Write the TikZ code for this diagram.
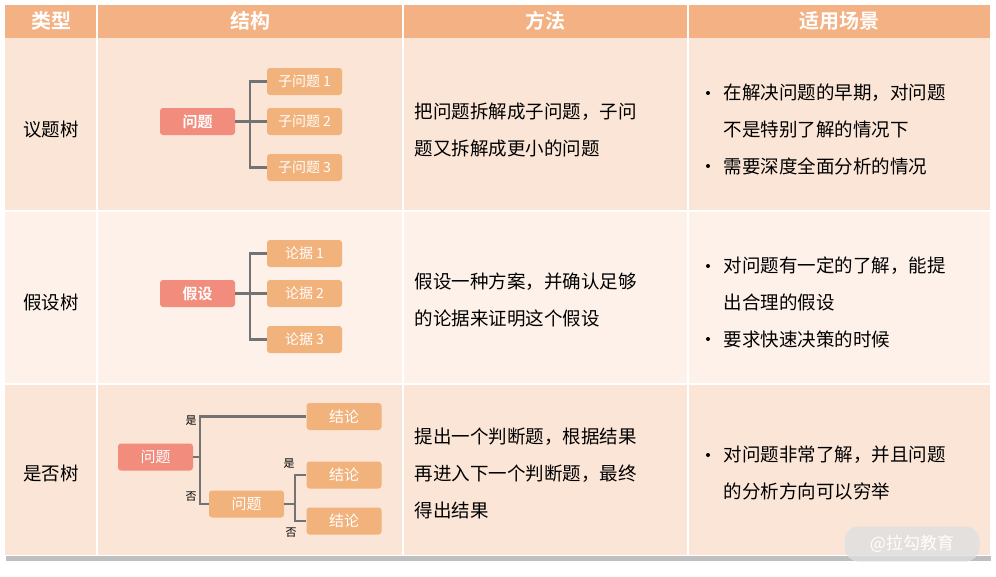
\documentclass[tikz,border=0pt]{standalone}
\usepackage{fontspec}
\setmainfont{Noto Sans CJK SC}
\newfontfamily\cjkb{Noto Sans CJK SC Bold}
\begin{document}
\begin{tikzpicture}[x=1pt,y=-1pt,
  hd/.style={text=white,font=\cjkb\fontsize{20}{24}\selectfont},
  tx/.style={anchor=west,font=\fontsize{18.5}{22}\selectfont,text=black},
  rbox/.style={fill=redc,rounded corners=3pt,minimum width=75pt,minimum height=27pt,text=white,font=\cjkb\fontsize{15}{18}\selectfont,inner sep=0pt},
  obox/.style={fill=orc,rounded corners=3pt,minimum width=75pt,minimum height=27pt,text=white,font=\fontsize{14}{17}\selectfont,inner sep=0pt},
  ln/.style={draw=gray!90!black,line width=2.2pt},
  lab/.style={font=\fontsize{11}{13}\selectfont,inner sep=0pt}]
\definecolor{hdc}{HTML}{F4B183}
\definecolor{r1}{HTML}{FBE5D6}
\definecolor{r2}{HTML}{FDF1EA}
\definecolor{redc}{HTML}{F28C7C}
\definecolor{orc}{HTML}{F2B27B}
\useasboundingbox (0,0) rectangle (996,576);
\fill[white] (0,0) rectangle (996,576);
\fill[gray!50] (6,556) rectangle (991,561);
\fill[hdc] (5,5) rectangle (990,38);
\fill[r1] (5,38) rectangle (990,210);
\fill[r2] (5,212) rectangle (990,383);
\fill[r1] (5,385) rectangle (990,555);
\foreach \x in {97,403,688} \draw[white,line width=1.5pt] (\x,5) -- (\x,555);
\node[hd] (h1) at (51,21) {类型};
\node[hd] (h2) at (250,21) {结构};
\node[hd] (h3) at (545,21) {方法};
\node[hd] (h4) at (839,21) {适用场景};
\node[tx,anchor=center] (t1) at (51,130) {议题树};
\node[tx,anchor=center] (t2) at (51,302) {假设树};
\node[tx,anchor=center] (t3) at (51,473) {是否树};
% row1
\node[rbox] (q1) at (197.5,121.5) {问题};
\node[obox] (s1) at (304.5,81.5) {子问题 1};
\node[obox] (s2) at (304.5,121.5) {子问题 2};
\node[obox] (s3) at (304.5,167.5) {子问题 3};
\draw[ln] (q1.east) -- (s2.west);
\draw[ln] (s1.west) -| (250,121.5) |- (s3.west);
% row2
\node[rbox] (q2) at (197.5,293.5) {假设};
\node[obox] (e1) at (304.5,253.5) {论据 1};
\node[obox] (e2) at (304.5,293.5) {论据 2};
\node[obox] (e3) at (304.5,339.5) {论据 3};
\draw[ln] (q2.east) -- (e2.west);
\draw[ln] (e1.west) -| (250,293.5) |- (e3.west);
% row3
\node[rbox,font=\fontsize{15}{18}\selectfont] (q3) at (155.5,457) {问题};
\node[obox,font=\fontsize{15}{18}\selectfont] (c1) at (344,416.5) {结论};
\node[obox,font=\fontsize{15}{18}\selectfont] (q4) at (246.5,504) {问题};
\node[obox,font=\fontsize{15}{18}\selectfont] (c2) at (344,475) {结论};
\node[obox,font=\fontsize{15}{18}\selectfont] (c3) at (344,521) {结论};
\draw[ln] (q3.east) -- (200,457);
\draw[ln] (c1.west) -| (200,457) |- (q4.west);
\draw[ln] (q4.east) -- (295,504);
\draw[ln] (c2.west) -| (295,504) |- (c3.west);
\node[lab] (y1) at (191,421) {是};
\node[lab] (n1) at (191,497) {否};
\node[lab] (y2) at (289,464) {是};
\node[lab] (n2) at (291,533) {否};
% methods
\node[tx] (m1) at (411,112) {把问题拆解成子问题，子问};
\node[tx] (m2) at (411,148) {题又拆解成更小的问题};
\node[tx] (m3) at (411,282) {假设一种方案，并确认足够};
\node[tx] (m4) at (411,318) {的论据来证明这个假设};
\node[tx] (m5) at (411,437) {提出一个判断题，根据结果};
\node[tx] (m6) at (411,474) {再进入下一个判断题，最终};
\node[tx] (m7) at (411,510) {得出结果};
% scenes
\foreach \y/\t in {93/在解决问题的早期，对问题,166/需要深度全面分析的情况,266/对问题有一定的了解，能提,339/要求快速决策的时候,455/对问题非常了解，并且问题}
  {\fill (708,\y) circle (2pt); \node[tx] at (720,\y) {\t};}
\node[tx] (a1) at (720,129) {不是特别了解的情况下};
\node[tx] (a2) at (720,302) {出合理的假设};
\node[tx] (a3) at (720,491) {的分析方向可以穷举};
% watermark
\node[fill=gray!25,fill opacity=0.8,text opacity=1,text=white,rounded corners=14pt,minimum width=135pt,minimum height=35pt,font=\fontsize{17}{20}\selectfont] (wm) at (912,544) {@拉勾教育};
\end{tikzpicture}
\end{document}
